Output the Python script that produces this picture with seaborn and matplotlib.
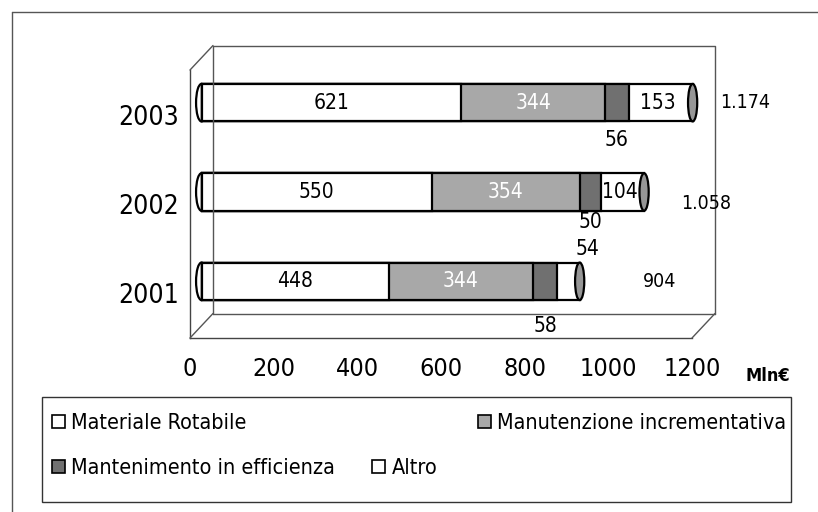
import matplotlib
matplotlib.use("Agg")
import matplotlib.pyplot as plt
import matplotlib.transforms as mtransforms
from matplotlib.patches import Ellipse, Rectangle
from matplotlib.lines import Line2D
import numpy as np
import seaborn as sns

# data
years = ["2003", "2002", "2001"]
series = ["Materiale Rotabile", "Manutenzione incrementativa",
          "Mantenimento in efficienza", "Altro"]
materiale = [621, 550, 448]
manutenzione = [344, 354, 344]
mantenimento = [56, 50, 58]
altro = [153, 104, 54]
totals = [1174, 1058, 904]
total_labels = ["1.174", "1.058", "904"]
x_ticks = [0, 200, 400, 600, 800, 1000, 1200]

colors = ["#ffffff", "#a8a8a8", "#707070", "#ffffff"]
CAP = "#969696"

sns.set_style("white")
plt.rcParams["font.family"] = ["DejaVu Sans"]
plt.rcParams["font.stretch"] = "condensed"
plt.rcParams["text.color"] = "black"
plt.rcParams["xtick.color"] = "black"
plt.rcParams["ytick.color"] = "black"

W, H = 818, 512
fig = plt.figure(figsize=(W / 100, H / 100), dpi=100)
# front plane of the 3d box
ax = fig.add_axes([190 / W, 1 - 338 / H, (692 - 190) / W, (338 - 70) / H])

values = [materiale, manutenzione, mantenimento, altro]
cum = np.cumsum(np.array(values), axis=0)

# draw stacked bars largest-first so that the shorter ones sit on top
for i in range(3, -1, -1):
    sns.barplot(x=cum[i], y=years, order=years, orient="h", color=colors[i],
                saturation=1, width=0.42, edgecolor="black", linewidth=1.6, ax=ax)

# bars sit halfway into the depth of the box
mid = ax.transData + mtransforms.ScaledTranslation(0.115, 0.12, fig.dpi_scale_trans)
back = ax.transData + mtransforms.ScaledTranslation(0.23, 0.245, fig.dpi_scale_trans)
for p in ax.patches:
    p.set_transform(mid)
    p.set_clip_on(False)

# cylinder end caps
for j, t in enumerate(totals):
    left = Ellipse((0, j), 26, 0.42, facecolor="white", edgecolor="black",
                   linewidth=1.6, transform=mid, zorder=0.5, clip_on=False)
    ax.add_patch(left)
    right = Ellipse((t, j), 22, 0.42, facecolor=CAP, edgecolor="black",
                    linewidth=1.6, transform=mid, zorder=3, clip_on=False)
    ax.add_patch(right)

ax.set_xlim(0, 1200)
ax.set_ylim(2.5, -0.5)
ax.set_xlabel("")
ax.set_ylabel("")

# back wall and floor
wall = dict(color="#555555", lw=1.0, clip_on=False)
ax.plot([0, 0, 1200, 1200], [2.5, -0.5, -0.5, 2.5], transform=back, **wall)
ax.plot([0, 1200], [2.5, 2.5], transform=back, **wall)
for (x0, y0) in [(0, -0.5), (0, 2.5), (1200, 2.5)]:
    p0 = ax.transData.transform((x0, y0))
    p1 = back.transform((x0, y0))
    fig.add_artist(Line2D([p0[0] / W, p1[0] / W], [p0[1] / H, p1[1] / H],
                          color="#555555", lw=1.0))

for s in ["top", "right"]:
    ax.spines[s].set_visible(False)
for s in ["left", "bottom"]:
    ax.spines[s].set_color("#444444")
    ax.spines[s].set_linewidth(1.0)

ax.set_xticks(x_ticks)
ax.set_xticklabels([str(v) for v in x_ticks], fontsize=18)
ax.tick_params(axis="x", length=5, width=1, color="#444444", pad=9, direction="out")
ax.set_yticks(range(len(years)))
ax.set_yticklabels(years, fontsize=19)
ax.tick_params(axis="y", which="major", length=0, pad=8)
ax.set_yticks([-0.5, 0.5, 1.5, 2.5], minor=True)
ax.tick_params(axis="y", which="minor", length=5, width=1, color="#444444", direction="out")

# segment labels
lbl = dict(ha="center", va="center", fontsize=15, transform=mid)
small_dy = [0.42, 0.34, 0.5]
altro_inside = [True, True, False]
total_dx = [125, 148, 190]
total_dy = [0, 0.13, 0]
for j in range(3):
    c0 = materiale[j] / 2
    c1 = materiale[j] + manutenzione[j] / 2
    c2 = materiale[j] + manutenzione[j] + mantenimento[j] / 2
    c3 = materiale[j] + manutenzione[j] + mantenimento[j] + altro[j] / 2
    ax.text(c0, j, str(materiale[j]), color="black", **lbl)
    ax.text(c1, j, str(manutenzione[j]), color="white", **lbl)
    ax.text(c2, j + small_dy[j], str(mantenimento[j]), color="black", **lbl)
    if altro_inside[j]:
        ax.text(c3 - 6, j, str(altro[j]), color="black", **lbl)
    else:
        ax.text(c3 + 45, j - 0.36, str(altro[j]), color="black", **lbl)
    ax.text(totals[j] + total_dx[j], j + total_dy[j], total_labels[j], color="black",
            ha="center", va="center", fontsize=14, transform=mid)

fig.text(768 / W, 1 - 376 / H, "Mln€", fontsize=13, fontweight="bold",
         ha="center", va="center")

# outer frame (left and top edges visible)
fig.add_artist(Line2D([12 / W, 12 / W], [0, 1 - 12 / H], color="#555555", lw=1.0))
fig.add_artist(Line2D([12 / W, 1], [1 - 12 / H, 1 - 12 / H], color="#555555", lw=1.0))

# legend box
fig.add_artist(Rectangle((42 / W, 1 - 502 / H), (791 - 42) / W, (502 - 397) / H,
                         transform=fig.transFigure, facecolor="none",
                         edgecolor="#333333", lw=1.0))
leg_pos = [(52, 423), (478, 423), (52, 468), (372, 468)]
for i, name in enumerate(series):
    h = Rectangle((0, 0), 1, 1, facecolor=colors[i], edgecolor="black", lw=1.2)
    x, y = leg_pos[i]
    fig.legend(handles=[h], labels=[name], loc="center left",
               bbox_to_anchor=(x / W, 1 - y / H), frameon=False, fontsize=15.5,
               handlelength=0.6, handleheight=0.6, handletextpad=0.3,
               borderpad=0, borderaxespad=0)

fig.savefig("out.png", dpi=100)
